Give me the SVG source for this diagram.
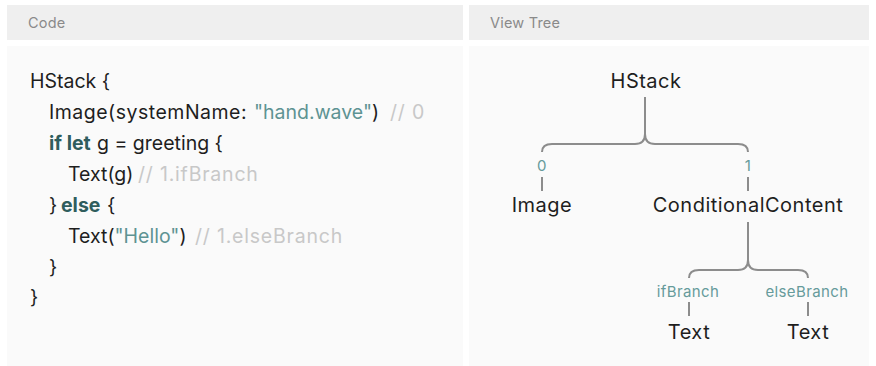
<svg xmlns="http://www.w3.org/2000/svg" width="876" height="366" viewBox="0 0 876 366">
  <style>
    .head { fill: #efefef; }
    .body { fill: #fafafa; }
    .title { font-family: Inter, "Liberation Sans", sans-serif; font-size: 14.5px; letter-spacing: 0.2px; fill: #8a8a8a; }
    .code { font-family: Inter, "Liberation Sans", sans-serif; font-size: 19.5px; fill: #1e1e1e; }
    .wide { letter-spacing: 0.5px; }
    .str { fill: #5e9393; }
    .kw { fill: #2f5d5d; font-weight: bold; }
    .cmt { fill: #c8c8c8; letter-spacing: 0.8px; }
    .node { font-family: Inter, "Liberation Sans", sans-serif; font-size: 20px; letter-spacing: 0.5px; fill: #1e1e1e; text-anchor: middle; }
    .lbl { font-family: Inter, "Liberation Sans", sans-serif; font-size: 15px; letter-spacing: 0.4px; fill: #669b9b; text-anchor: middle; }
    .edge { fill: none; stroke: #8c8c8c; stroke-width: 2; stroke-linecap: butt; }
  </style>
  <rect width="876" height="366" fill="#ffffff"/>

  <!-- panels -->
  <g id="code-panel">
    <rect class="head" x="7" y="5" width="456" height="35"/>
    <rect class="body" x="7" y="46" width="456" height="320"/>
    <text class="title" x="28" y="28">Code</text>
  </g>
  <g id="tree-panel">
    <rect class="head" x="469" y="5" width="400" height="35"/>
    <rect class="body" x="469" y="46" width="400" height="320"/>
    <text class="title" x="490" y="28">View Tree</text>
  </g>

  <!-- source listing -->
  <g id="source" class="code">
    <text x="30" y="88">HStack {</text>
    <text y="119"><tspan x="49" class="wide">Image(systemName:</tspan><tspan x="254" class="str">"hand.wave"</tspan><tspan>)</tspan><tspan x="390" class="cmt">// 0</tspan></text>
    <text y="150"><tspan x="49" class="kw">if let</tspan><tspan x="97">g = greeting {</tspan></text>
    <text y="181"><tspan x="68">Text(g)</tspan><tspan x="138" class="cmt">// 1.ifBranch</tspan></text>
    <text y="212"><tspan x="49">}</tspan><tspan x="61" class="kw">else</tspan><tspan x="107">{</tspan></text>
    <text y="243"><tspan x="68">Text(</tspan><tspan class="str">"Hello"</tspan><tspan>)</tspan><tspan x="195" class="cmt">// 1.elseBranch</tspan></text>
    <text x="49" y="274">}</text>
    <text x="30" y="304">}</text>
  </g>

  <!-- connectors -->
  <g id="connectors" class="edge">
    <path d="M645,97 V134 Q645,144 635,144 H552 Q542,144 542,152"/>
    <path d="M645,134 Q645,144 655,144 H738 Q748,144 748,152"/>
    <path d="M542,177 V191"/>
    <path d="M748,177 V191"/>
    <path d="M748,222 V260 Q748,270 738,270 H699 Q689,270 689,278"/>
    <path d="M748,260 Q748,270 758,270 H798 Q808,270 808,278"/>
    <path d="M689,302 V316"/>
    <path d="M808,302 V316"/>
  </g>

  <!-- edge labels -->
  <g id="edge-labels" class="lbl">
    <text x="542" y="171">0</text>
    <text x="748" y="171">1</text>
    <text x="688" y="297">ifBranch</text>
    <text x="807" y="297">elseBranch</text>
  </g>

  <!-- nodes -->
  <g id="node-hstack"><text class="node" x="646" y="88">HStack</text></g>
  <g id="node-image"><text class="node" x="542" y="212">Image</text></g>
  <g id="node-conditional"><text class="node" x="748" y="212">ConditionalContent</text></g>
  <g id="node-text-if"><text class="node" x="689" y="339">Text</text></g>
  <g id="node-text-else"><text class="node" x="808" y="339">Text</text></g>
</svg>
